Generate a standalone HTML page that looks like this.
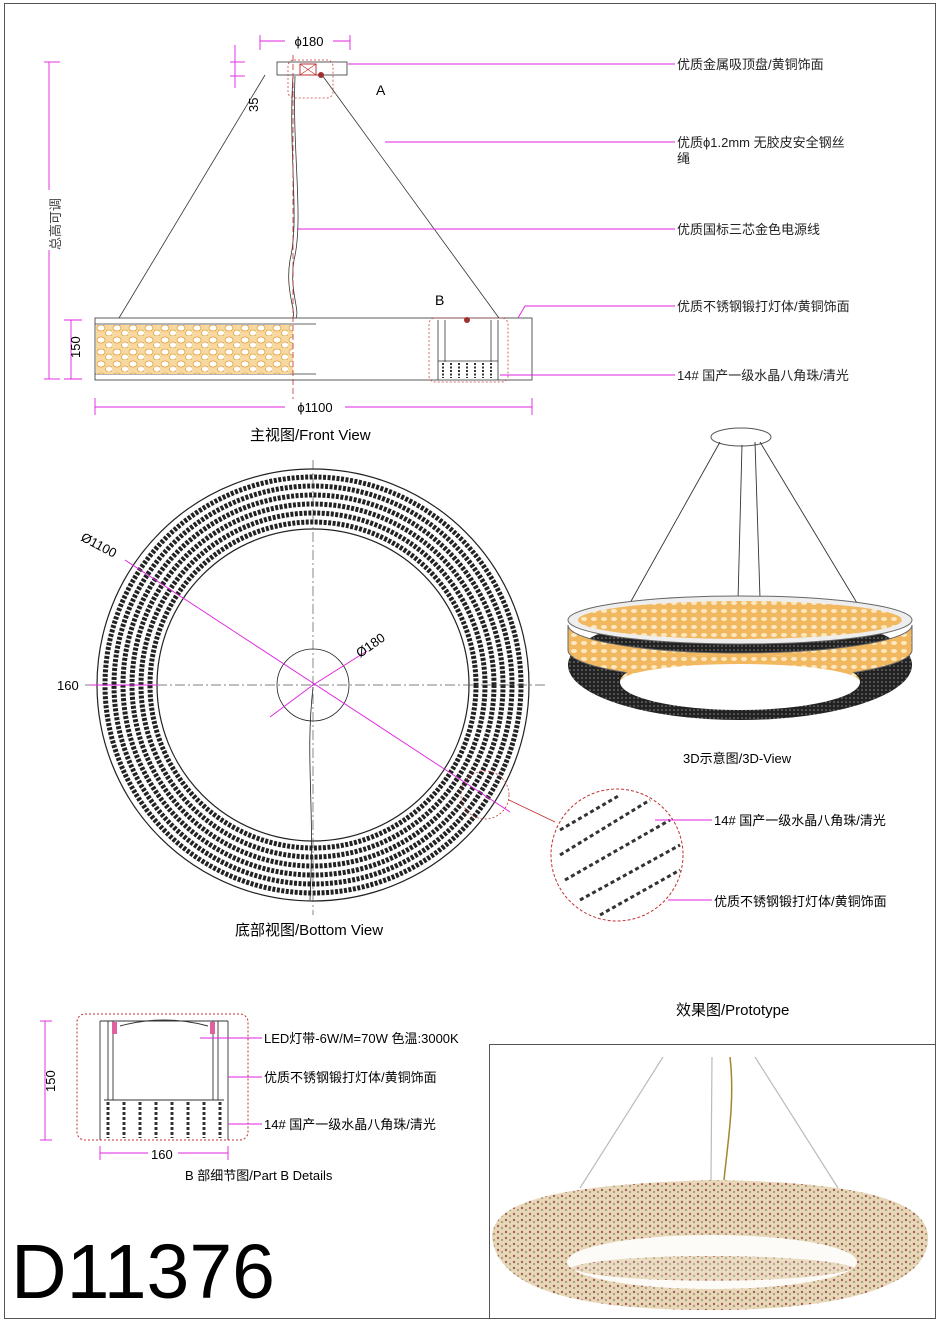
<!DOCTYPE html>
<html><head><meta charset="utf-8"><style>
html,body{margin:0;padding:0;background:#fff}
svg{display:block}
text{font-family:"Liberation Sans","Noto Sans CJK SC",sans-serif}
</style></head><body>
<svg width="940" height="1322" viewBox="0 0 940 1322" xmlns="http://www.w3.org/2000/svg">
<defs>
<pattern id="peb" width="16" height="12" patternUnits="userSpaceOnUse">
<rect width="16" height="12" fill="#f7d9a0"/>
<ellipse cx="5" cy="4" rx="4" ry="3" fill="#fff" stroke="#e0a040" stroke-width="0.8"/>
<ellipse cx="13" cy="9" rx="3.5" ry="3" fill="#fff" stroke="#e0a040" stroke-width="0.8"/>
</pattern>
<pattern id="peb3" width="10" height="8" patternUnits="userSpaceOnUse">
<rect width="10" height="8" fill="#f2b860"/>
<ellipse cx="4" cy="3" rx="3" ry="2" fill="#fde8c0"/>
</pattern>
<pattern id="dark3" width="4" height="4" patternUnits="userSpaceOnUse">
<rect width="4" height="4" fill="#222"/>
<circle cx="2" cy="2" r="0.8" fill="#888"/>
</pattern>
<pattern id="proto" width="8" height="6" patternUnits="userSpaceOnUse">
<rect width="8" height="6" fill="#e8d8b8"/>
<circle cx="2" cy="2" r="1.2" fill="#a06060"/>
<circle cx="6" cy="4" r="1.2" fill="#b0a080"/>
</pattern>
</defs>
<rect x="4.5" y="3.5" width="931" height="1315" fill="none" stroke="#555" stroke-width="1"/>

<!-- FRONT VIEW -->
<g stroke="#333" fill="none" stroke-width="0.8">
<rect x="277" y="62" width="70" height="13" fill="#fff"/>
<line x1="265" y1="75" x2="119" y2="318"/>
<line x1="322" y1="75" x2="499" y2="318"/>
<path d="M293 76 C288 150 300 220 290 260 C285 290 296 310 293 318"/>
<path d="M295 76 C292 150 304 220 294 260 C289 290 300 310 296 318"/>
<rect x="95" y="318" width="437" height="62" fill="#fff"/>
<line x1="95" y1="324" x2="316" y2="324"/>
<line x1="95" y1="374" x2="316" y2="374"/>
</g>
<rect x="96" y="325" width="197" height="49" fill="url(#peb)"/>
<line x1="293" y1="55" x2="293" y2="400" stroke="#c03030" stroke-width="0.8" stroke-dasharray="6 3"/>
<rect x="300" y="64" width="16" height="11" fill="none" stroke="#c03030"/>
<path d="M300 64 L316 75 M316 64 L300 75" stroke="#c03030" stroke-width="0.7"/>
<circle cx="321" cy="75" r="3" fill="#a03030"/>
<rect x="288" y="60" width="45" height="38" rx="6" fill="none" stroke="#d04040" stroke-dasharray="2 2" stroke-width="0.8"/>
<rect x="429" y="318" width="79" height="64" rx="6" fill="none" stroke="#d04040" stroke-dasharray="2 2" stroke-width="0.8"/>
<g stroke="#333" stroke-width="0.8"><line x1="438" y1="320" x2="438" y2="380"/><line x1="498" y1="320" x2="498" y2="380"/><line x1="445" y1="320" x2="445" y2="362"/><line x1="491" y1="320" x2="491" y2="362"/><line x1="438" y1="361" x2="498" y2="361"/></g>
<g stroke="#333" stroke-width="2" stroke-dasharray="2 1.5"><line x1="443" y1="363" x2="443" y2="378"/><line x1="451" y1="363" x2="451" y2="378"/><line x1="459" y1="363" x2="459" y2="378"/><line x1="467" y1="363" x2="467" y2="378"/><line x1="475" y1="363" x2="475" y2="378"/><line x1="483" y1="363" x2="483" y2="378"/><line x1="491" y1="363" x2="491" y2="378"/></g>
<circle cx="467" cy="320" r="3" fill="#a03030"/>
<text x="376" y="95" font-size="14">A</text>
<text x="435" y="305" font-size="14">B</text>
<g stroke="#e020e0" stroke-width="0.9" fill="none">
<line x1="260" y1="41" x2="350" y2="41"/><line x1="260" y1="35" x2="260" y2="50"/><line x1="350" y1="35" x2="350" y2="50"/>
<line x1="235" y1="45" x2="235" y2="88"/><line x1="230" y1="62" x2="245" y2="62"/><line x1="230" y1="76" x2="245" y2="76"/>
<line x1="49" y1="62" x2="49" y2="379"/><line x1="44" y1="62" x2="60" y2="62"/><line x1="44" y1="379" x2="60" y2="379"/>
<line x1="71" y1="320" x2="71" y2="379"/><line x1="64" y1="320" x2="82" y2="320"/><line x1="64" y1="379" x2="82" y2="379"/>
<line x1="95" y1="407" x2="532" y2="407"/><line x1="95" y1="398" x2="95" y2="415"/><line x1="532" y1="398" x2="532" y2="415"/>
<line x1="348" y1="64" x2="675" y2="64"/>
<line x1="385" y1="142" x2="675" y2="142"/>
<line x1="297" y1="229" x2="675" y2="229"/>
<path d="M518 318 L525 306 L675 306"/>
<line x1="500" y1="375" x2="675" y2="375"/>
</g>
<rect x="285" y="33" width="48" height="16" fill="#fff"/>
<text x="309" y="46" font-size="13" text-anchor="middle">ϕ180</text>
<rect x="285" y="399" width="60" height="16" fill="#fff"/>
<text x="315" y="412" font-size="13" text-anchor="middle">ϕ1100</text>
<text x="258" y="112" font-size="13" transform="rotate(-90 258 112)">35</text>
<text x="80" y="358" font-size="13" transform="rotate(-90 80 358)">150</text>
<rect x="42" y="190" width="14" height="60" fill="#fff"/>
<text x="60" y="250" font-size="13" fill="#444" transform="rotate(-90 60 250)">总高可调</text>
<g font-size="13" fill="#222">
<text x="677" y="69">优质金属吸顶盘/黄铜饰面</text>
<text x="677" y="147">优质ϕ1.2mm 无胶皮安全钢丝</text>
<text x="677" y="163">绳</text>
<text x="677" y="234">优质国标三芯金色电源线</text>
<text x="677" y="311">优质不锈钢锻打灯体/黄铜饰面</text>
<text x="677" y="380">14# 国产一级水晶八角珠/清光</text>
</g>
<text x="250" y="440" font-size="15">主视图/Front View</text>

<!-- BOTTOM VIEW -->
<g fill="none" stroke="#222">
<circle cx="313" cy="685" r="216" stroke-width="1.2"/>
<circle cx="313" cy="685" r="208" stroke-width="5" stroke-dasharray="3 1.5"/>
<circle cx="313" cy="685" r="199" stroke-width="5" stroke-dasharray="3 1.5"/>
<circle cx="313" cy="685" r="190" stroke-width="5" stroke-dasharray="3 1.5"/>
<circle cx="313" cy="685" r="181" stroke-width="5" stroke-dasharray="3 1.5"/>
<circle cx="313" cy="685" r="172" stroke-width="5" stroke-dasharray="3 1.5"/>
<circle cx="313" cy="685" r="163" stroke-width="5" stroke-dasharray="3 1.5"/>
<circle cx="313" cy="685" r="156" stroke-width="1.2"/>
<circle cx="313" cy="685" r="36" stroke-width="0.8"/>
<path d="M313 687 C305 760 315 800 310 900" stroke-width="0.8"/>
</g>
<g stroke="#555" stroke-width="0.7" stroke-dasharray="10 3 2 3">
<line x1="313" y1="460" x2="313" y2="915"/><line x1="85" y1="685" x2="545" y2="685"/>
</g>
<g stroke="#e020e0" stroke-width="0.9">
<line x1="125" y1="560" x2="510" y2="812"/>
<line x1="90" y1="685" x2="158" y2="685"/>
<line x1="313" y1="685" x2="367" y2="651"/>
<line x1="270" y1="717" x2="313" y2="685"/>
</g>
<text x="80" y="540" font-size="13" transform="rotate(28 80 540)">Ø1100</text>
<text x="360" y="658" font-size="13" transform="rotate(-35 360 658)">Ø180</text>
<text x="57" y="690" font-size="13">160</text>
<circle cx="485" cy="795" r="24" fill="none" stroke="#c03030" stroke-dasharray="2 2" stroke-width="0.8"/>
<line x1="509" y1="800" x2="555" y2="822" stroke="#c03030" stroke-width="0.8"/>
<text x="235" y="935" font-size="15">底部视图/Bottom View</text>

<circle cx="617" cy="855" r="66" fill="#fff" stroke="#c03030" stroke-dasharray="3 2" stroke-width="1"/>
<g stroke="#333" stroke-width="3" stroke-dasharray="4 3" fill="none">
<path d="M560 830 L620 795 M560 855 L650 800 M565 880 L670 820 M580 900 L680 845 M600 915 L680 870"/>
</g>
<g stroke="#e020e0" stroke-width="0.9"><line x1="655" y1="820" x2="712" y2="820"/><line x1="668" y1="900" x2="712" y2="900"/></g>
<text x="714" y="825" font-size="13">14# 国产一级水晶八角珠/清光</text>
<text x="714" y="906" font-size="13">优质不锈钢锻打灯体/黄铜饰面</text>

<!-- 3D VIEW -->
<ellipse cx="741" cy="437" rx="30" ry="9" fill="#fff" stroke="#555"/>
<g stroke="#333" stroke-width="0.9"><line x1="720" y1="442" x2="630" y2="603"/><line x1="760" y1="442" x2="860" y2="608"/><line x1="742" y1="445" x2="738" y2="600"/><line x1="755" y1="442" x2="760" y2="598"/></g>
<ellipse cx="740" cy="665" rx="172" ry="55" fill="url(#dark3)"/>
<path d="M568 625 L568 650 A172 30 0 0 0 912 650 L912 625 A172 28 0 0 1 568 625 Z" fill="url(#peb3)" stroke="#666"/>
<ellipse cx="740" cy="620" rx="172" ry="24" fill="#eee" stroke="#666"/>
<ellipse cx="740" cy="620" rx="162" ry="19" fill="url(#peb3)"/>
<ellipse cx="740" cy="682" rx="120" ry="28" fill="#fff"/>
<path d="M620 682 A120 28 0 0 1 860 682 A120 18 0 0 0 620 682Z" fill="url(#peb3)"/>
<text x="683" y="763" font-size="13">3D示意图/3D-View</text>

<!-- PART B -->
<rect x="77" y="1014" width="171" height="126" rx="8" fill="none" stroke="#c03030" stroke-dasharray="2 2"/>
<g stroke="#333" stroke-width="0.9" fill="none">
<line x1="100" y1="1021" x2="100" y2="1140"/><line x1="228" y1="1021" x2="228" y2="1140"/>
<line x1="100" y1="1021" x2="228" y2="1021"/>
<line x1="108" y1="1021" x2="108" y2="1100"/><line x1="113" y1="1021" x2="113" y2="1100"/>
<line x1="213" y1="1021" x2="213" y2="1100"/><line x1="218" y1="1021" x2="218" y2="1100"/>
<line x1="104" y1="1100" x2="224" y2="1100"/>
</g>
<rect x="112" y="1022" width="5" height="12" fill="#e060a0"/><rect x="210" y="1022" width="5" height="12" fill="#e060a0"/>
<path d="M120 1026 Q164 1014 208 1026" stroke="#333" fill="none"/>
<g stroke="#333" stroke-width="3" stroke-dasharray="3 2"><line x1="108" y1="1102" x2="108" y2="1138"/><line x1="124" y1="1102" x2="124" y2="1138"/><line x1="140" y1="1102" x2="140" y2="1138"/><line x1="156" y1="1102" x2="156" y2="1138"/><line x1="172" y1="1102" x2="172" y2="1138"/><line x1="188" y1="1102" x2="188" y2="1138"/><line x1="204" y1="1102" x2="204" y2="1138"/><line x1="220" y1="1102" x2="220" y2="1138"/></g>
<g stroke="#e020e0" stroke-width="0.9">
<line x1="45" y1="1021" x2="45" y2="1140"/><line x1="40" y1="1021" x2="52" y2="1021"/><line x1="40" y1="1140" x2="52" y2="1140"/>
<line x1="100" y1="1153" x2="228" y2="1153"/><line x1="100" y1="1146" x2="100" y2="1160"/><line x1="228" y1="1146" x2="228" y2="1160"/>
<line x1="200" y1="1038" x2="262" y2="1038"/><line x1="228" y1="1077" x2="262" y2="1077"/><line x1="228" y1="1124" x2="262" y2="1124"/>
</g>
<text x="55" y="1092" font-size="13" transform="rotate(-90 55 1092)">150</text>
<rect x="148" y="1146" width="30" height="14" fill="#fff"/>
<text x="151" y="1159" font-size="13">160</text>
<text x="264" y="1043" font-size="13">LED灯带-6W/M=70W 色温:3000K</text>
<text x="264" y="1082" font-size="13">优质不锈钢锻打灯体/黄铜饰面</text>
<text x="264" y="1129" font-size="13">14# 国产一级水晶八角珠/清光</text>
<text x="185" y="1180" font-size="13">B 部细节图/Part B Details</text>

<text x="11" y="1298" font-size="77">D11376</text>

<!-- PROTOTYPE -->
<text x="676" y="1015" font-size="15">效果图/Prototype</text>
<rect x="489.5" y="1044.5" width="446" height="274" fill="#fff" stroke="#555"/>
<g stroke="#bbb" stroke-width="1.2"><line x1="663" y1="1057" x2="580" y2="1188"/><line x1="712" y1="1057" x2="711" y2="1180"/><line x1="755" y1="1057" x2="838" y2="1188"/></g>
<path d="M730 1057 C735 1100 728 1140 724 1180" stroke="#a08830" stroke-width="1.5" fill="none"/>
<path d="M492 1235 C495 1200 560 1185 710 1180 C860 1182 930 1200 928 1240 C925 1290 830 1310 710 1310 C580 1310 495 1290 492 1235 Z" fill="url(#proto)"/>
<ellipse cx="712" cy="1262" rx="145" ry="27" fill="#fdfbf8"/>
<path d="M570 1268 C600 1252 820 1252 855 1268 C820 1285 600 1285 570 1268Z" fill="url(#proto)" opacity="0.85"/>
</svg>
</body></html>
